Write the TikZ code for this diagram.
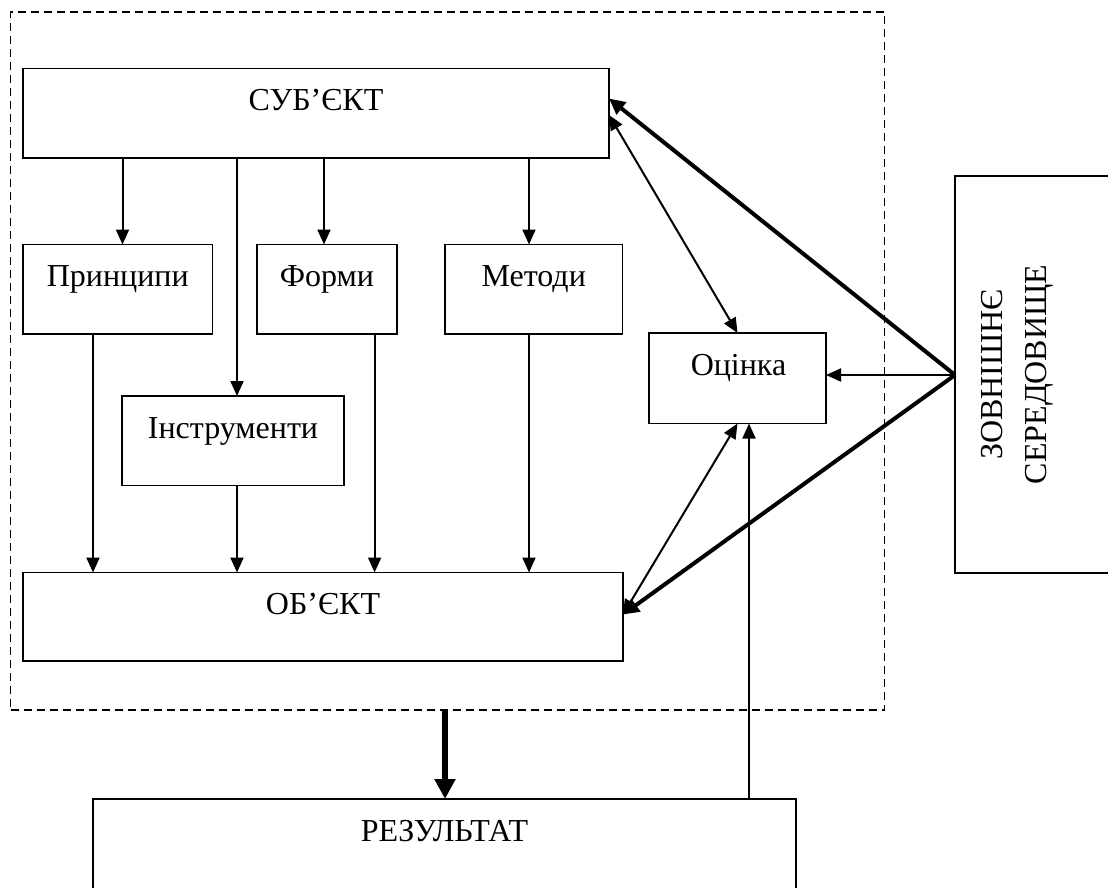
\documentclass[tikz,border=0pt]{standalone}
\usepackage{fontspec}
\setmainfont{Liberation Serif}
\usetikzlibrary{arrows.meta,calc}
\tikzset{
  boxnode/.style={draw, line width=1.8pt, rectangle, anchor=north west, inner sep=0pt, outer sep=0pt},
  txt/.style={anchor=base, inner sep=0pt, font=\fontsize{32}{44}\selectfont},
  thinarr/.style={line width=2pt, -{Triangle[length=15pt,width=13pt]}},
  thinboth/.style={line width=2pt, {Triangle[length=15pt,width=13pt]}-{Triangle[length=15pt,width=13pt]}},
  thickarr/.style={line width=4pt, -{Triangle[length=16pt,width=15pt]}},
  bigarr/.style={line width=6.5pt, -{Triangle[length=20pt,width=20pt]}},
  framebox/.style={draw, dash pattern=on 8pt off 5pt, line width=1.8pt, rectangle, anchor=north west, inner sep=0pt, outer sep=0pt}
}
\begin{document}
\begin{tikzpicture}[x=1pt,y=-1pt]
\useasboundingbox (0,0) rectangle (1108,887);
\fill[white] (0,0) rectangle (1108,887);
\clip (0,0) rectangle (1108,887);

% frame
\node[framebox, minimum width=874pt, minimum height=698pt] (frame) at (10.5,12) {};

% boxes
\node[boxnode, minimum width=586pt, minimum height=89.5pt] (sub) at (23,68.5) {};
\node[boxnode, minimum width=189.5pt, minimum height=89.5pt] (prin) at (23,244.5) {};
\node[boxnode, minimum width=140pt, minimum height=89.5pt] (form) at (257,244.5) {};
\node[boxnode, minimum width=177.5pt, minimum height=89.5pt] (meth) at (445,244.5) {};
\node[boxnode, minimum width=222pt, minimum height=89.5pt] (instr) at (122,396) {};
\node[boxnode, minimum width=600pt, minimum height=88.5pt] (obj) at (23,572.5) {};
\node[boxnode, minimum width=177pt, minimum height=90.5pt] (ots) at (649,333) {};
\node[boxnode, minimum width=200pt, minimum height=397pt] (zov) at (955,176) {};
\node[boxnode, minimum width=703pt, minimum height=120pt] (res) at (93,799) {};

% labels
\node[txt] (tsub) at ($(sub.north)+(0,42)$) {СУБ’ЄКТ};
\node[txt] (tprin) at ($(prin.north)+(0,42)$) {Принципи};
\node[txt] (tform) at ($(form.north)+(0,42)$) {Форми};
\node[txt] (tmeth) at ($(meth.north)+(0,42)$) {Методи};
\node[txt] (tinstr) at ($(instr.north)+(0,42)$) {Інструменти};
\node[txt] (tobj) at ($(obj.north)+(0,42)$) {ОБ’ЄКТ};
\node[txt] (tots) at ($(ots.north)+(1,42)$) {Оцінка};
\node[txt] (tres) at ($(res.north)+(0,42)$) {РЕЗУЛЬТАТ};
\node[rotate=90, align=center, inner sep=0pt, font=\fontsize{32}{44}\selectfont] (tzov) at (1017,374.5) {ЗОВНІШНЄ\\СЕРЕДОВИЩЕ};

% column coordinates
\coordinate (c1) at (122.5,0);
\coordinate (c2) at (237,0);
\coordinate (c3) at (324,0);
\coordinate (c4) at (529,0);
\coordinate (d1) at (93,0);
\coordinate (d3) at (374.6,0);
\coordinate (c5) at (749,0);
\coordinate (c6) at (445,0);

% vertical arrows
\draw[thinarr] (sub.south -| c1) -- (prin.north -| c1);
\draw[thinarr] (sub.south -| c2) -- (instr.north -| c2);
\draw[thinarr] (sub.south -| c3) -- (form.north -| c3);
\draw[thinarr] (sub.south -| c4) -- (meth.north -| c4);
\draw[thinarr] (prin.south -| d1) -- (obj.north -| d1);
\draw[thinarr] (instr.south -| c2) -- (obj.north -| c2);
\draw[thinarr] (form.south -| d3) -- (obj.north -| d3);
\draw[thinarr] (meth.south -| c4) -- (obj.north -| c4);

% right side
\coordinate (s1) at (609,98.5);
\coordinate (s2) at (609,115);
\coordinate (o1) at (623,614.5);
\coordinate (zp) at (955,375);
\draw[thickarr] (zov.west |- zp) -- (s1);
\draw[thickarr] (zov.west |- zp) -- (o1);
\draw[thinarr] (zov.west |- zp) -- (ots.east |- zp);
\draw[thinboth] (s2) -- (ots.north);
\draw[thinboth] (o1) -- (ots.south);
\draw[thinarr] (res.north -| c5) -- (ots.south -| c5);
\draw[bigarr] (frame.south -| c6) -- (res.north -| c6);
\end{tikzpicture}
\end{document}
